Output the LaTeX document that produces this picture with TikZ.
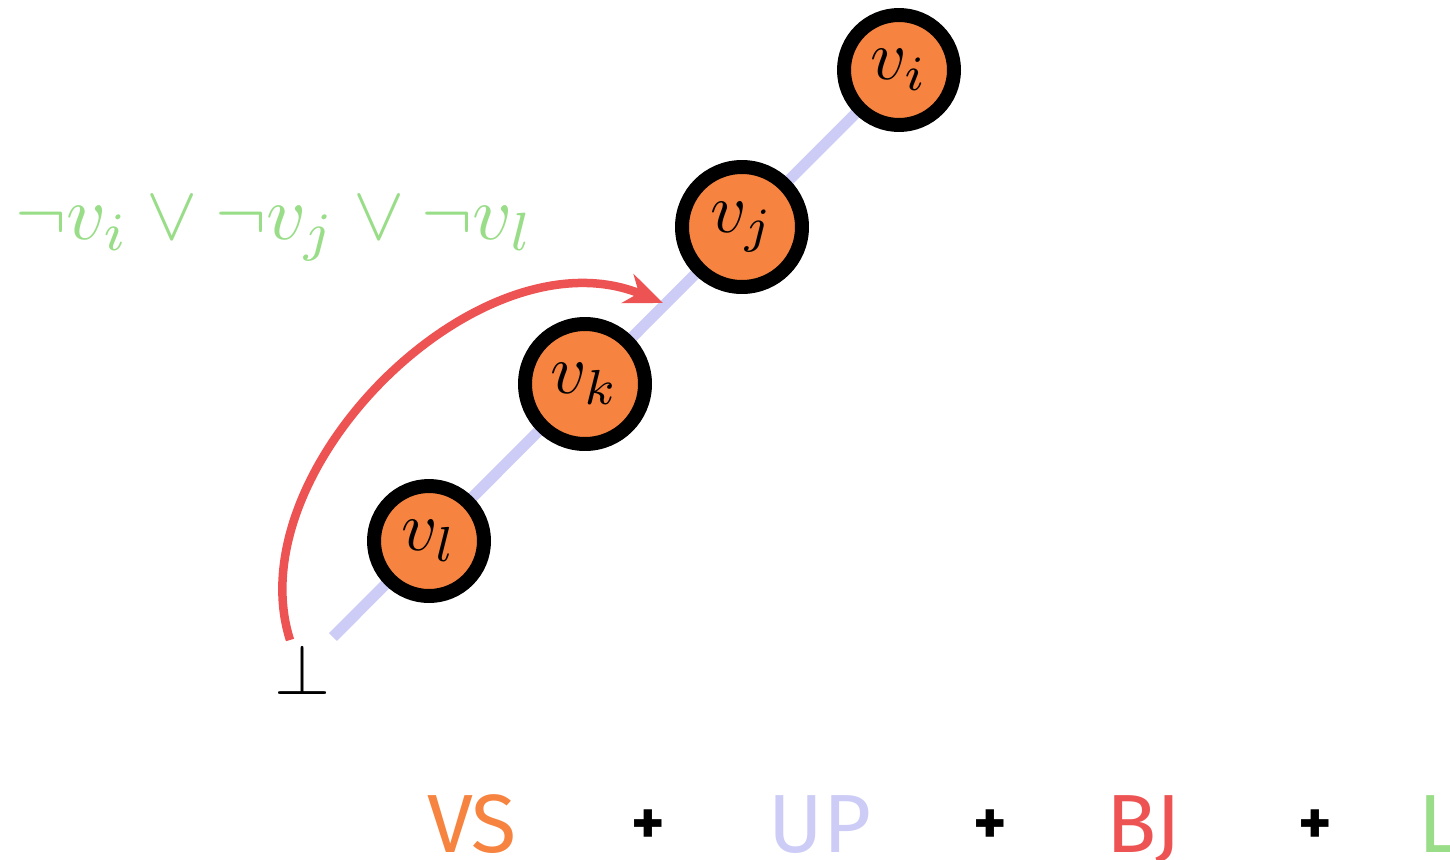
\documentclass[tikz,border=0pt]{standalone}
\usepackage{fontspec}
\newfontfamily\comicfont{Fira Sans}
\usetikzlibrary{arrows.meta,backgrounds}
\definecolor{vsorange}{HTML}{F6833F}
\definecolor{uplav}{HTML}{CCCCF6}
\definecolor{bjred}{HTML}{EE5353}
\definecolor{lgreen}{HTML}{99DD88}
\newcommand{\scaledmath}[2]{\scalebox{#1}{$#2$}}
\begin{document}
\begin{tikzpicture}[x=0.02cm,y=-0.02cm,
  vnode/.style={circle, draw=black, fill=vsorange, line width=0.28cm, inner sep=0pt},
  bigword/.style={anchor=base, inner sep=0pt, font=\comicfont\fontsize{47}{50}\selectfont},
  plus/.style={anchor=center, inner sep=0pt, text=black, font=\comicfont\bfseries\fontsize{36}{38}\selectfont},
  uppath/.style={uplav, line width=0.22cm},
  jump/.style={bjred, line width=0.17cm, -{Stealth[length=0.76cm,width=0.62cm,inset=0.24cm]}}]
\useasboundingbox (0,0) rectangle (1450,859);
\node[vnode, minimum size=2.2cm] (vi) at (899,70) {\scaledmath{4}{v_i}};
\node[vnode, minimum size=2.4cm] (vj) at (742,227) {\scaledmath{4}{v_j}};
\node[vnode, minimum size=2.4cm] (vk) at (585,384) {\scaledmath{4}{v_k}};
\node[vnode, minimum size=2.2cm] (vl) at (429,541) {\scaledmath{4}{v_l}};
\coordinate (lstart) at (333,637);
\begin{scope}[on background layer]
  \draw[uppath] (lstart) -- (vi.center);
\end{scope}
\node[inner sep=0pt] (bot) at (303,669) {\scaledmath{4.1}{\bot}};
\coordinate (rs) at (290,640);
\coordinate (re) at (663,303);
\draw[jump] (rs) .. controls (236,470) and (480,228) .. (re);
\node[text=lgreen, anchor=base west, inner sep=0pt] (clause) at (15,239) {\scaledmath{4.38}{\neg v_i \vee \neg v_j \vee \neg v_l}};
\node[bigword, text=vsorange] (vs) at (472,852) {VS};
\node[plus] (p1) at (648,827) {+};
\node[bigword, text=uplav] (up) at (820,852) {UP};
\node[plus] (p2) at (990,827) {+};
\node[bigword, text=bjred] (bj) at (1144,852) {BJ};
\node[plus] (p3) at (1315,827) {+};
\node[bigword, anchor=base west, text=lgreen] (l) at (1418,852) {L};
\end{tikzpicture}
\end{document}
